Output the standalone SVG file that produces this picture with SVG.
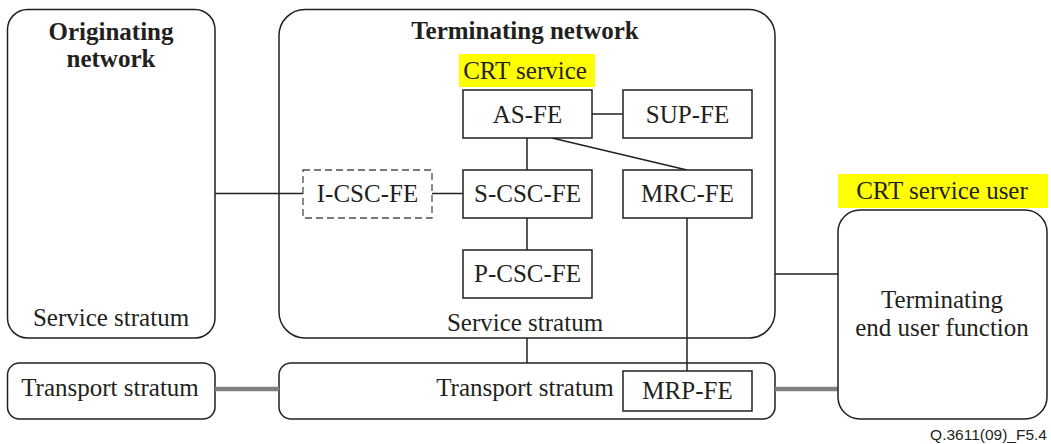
<svg xmlns="http://www.w3.org/2000/svg" width="1051" height="444" viewBox="0 0 1051 444">
  <style>
    .frame { fill: #ffffff; stroke: #231f20; stroke-width: 1.5; }
    .fe { fill: #ffffff; stroke: #231f20; stroke-width: 1.5; }
    .fe-dash { fill: #ffffff; stroke: #4d4d4d; stroke-width: 1.3; stroke-dasharray: 7 4; }
    .link { fill: none; stroke: #231f20; stroke-width: 1.5; }
    .bearer { fill: none; stroke: #808080; stroke-width: 4.5; }
    .hl { fill: #ffff00; }
    text { font-family: "Liberation Serif", "Times New Roman", serif; font-size: 25px; fill: #231f20; text-anchor: middle; }
    .bold { font-weight: bold; font-size: 25px; }
    .ref { font-family: "Liberation Sans", Arial, sans-serif; font-size: 15.5px; text-anchor: end; }
  </style>

  <!-- originating network, service stratum -->
  <g id="originating-service">
    <rect class="frame" x="7.5" y="9.5" width="207.5" height="328.5" rx="20" ry="20"/>
    <text class="bold" x="111" y="40">Originating</text>
    <text class="bold" x="111" y="67">network</text>
    <text x="111" y="326">Service stratum</text>
  </g>

  <!-- originating network, transport stratum -->
  <g id="originating-transport">
    <rect class="frame" x="7.5" y="363" width="207.5" height="56" rx="12" ry="12"/>
    <text x="110" y="396">Transport stratum</text>
  </g>

  <!-- terminating network, service stratum -->
  <g id="terminating-service">
    <rect class="frame" x="279" y="9.5" width="496" height="328.5" rx="26" ry="26"/>
    <text class="bold" x="525" y="39">Terminating network</text>
    <text x="525" y="331">Service stratum</text>
  </g>

  <!-- terminating network, transport stratum -->
  <g id="terminating-transport">
    <rect class="frame" x="279" y="363" width="496" height="56" rx="12" ry="12"/>
    <text x="525" y="396">Transport stratum</text>
  </g>

  <!-- connectors, drawn over the stratum frames -->
  <g id="connectors">
    <line class="link" x1="215" y1="193.5" x2="303" y2="193.5"/>
    <line class="link" x1="432" y1="193.5" x2="463" y2="193.5"/>
    <line class="link" x1="592" y1="114" x2="623" y2="114"/>
    <line class="link" x1="527" y1="138" x2="527" y2="170"/>
    <line class="link" x1="552" y1="138" x2="687" y2="170"/>
    <line class="link" x1="527" y1="218" x2="527" y2="250"/>
    <line class="link" x1="687" y1="218" x2="687" y2="371"/>
    <line class="link" x1="527" y1="338" x2="527" y2="363"/>
    <line class="link" x1="775" y1="274" x2="838" y2="274"/>
    <line class="bearer" x1="215" y1="389" x2="279" y2="389"/>
    <line class="bearer" x1="775" y1="389" x2="838" y2="389"/>
  </g>

  <g id="crt-service">
    <rect class="hl" x="459" y="54" width="136" height="33"/>
    <text x="525" y="79">CRT service</text>
  </g>

  <g id="as-fe">
    <rect class="fe" x="463" y="90" width="129" height="48"/>
    <text x="527.5" y="123">AS-FE</text>
  </g>

  <g id="sup-fe">
    <rect class="fe" x="623" y="90" width="129" height="48"/>
    <text x="687.5" y="123">SUP-FE</text>
  </g>

  <g id="i-csc-fe">
    <rect class="fe-dash" x="303" y="170" width="129" height="48"/>
    <text x="367.5" y="202">I-CSC-FE</text>
  </g>

  <g id="s-csc-fe">
    <rect class="fe" x="463" y="170" width="129" height="48"/>
    <text x="527.5" y="202">S-CSC-FE</text>
  </g>

  <g id="mrc-fe">
    <rect class="fe" x="623" y="170" width="129" height="48"/>
    <text x="687.5" y="202">MRC-FE</text>
  </g>

  <g id="p-csc-fe">
    <rect class="fe" x="463" y="250" width="129" height="48"/>
    <text x="527.5" y="282">P-CSC-FE</text>
  </g>

  <g id="mrp-fe">
    <rect class="fe" x="623" y="371" width="129" height="40"/>
    <text x="687.5" y="399">MRP-FE</text>
  </g>

  <g id="crt-service-user">
    <rect class="hl" x="838" y="174" width="210" height="34"/>
    <text x="942" y="199">CRT service user</text>
  </g>

  <g id="end-user-function">
    <rect class="frame" x="838" y="210" width="209" height="209" rx="22" ry="22"/>
    <text x="942" y="308">Terminating</text>
    <text x="942" y="336">end user function</text>
  </g>

  <text class="ref" x="1047" y="440">Q.3611(09)_F5.4</text>
</svg>
